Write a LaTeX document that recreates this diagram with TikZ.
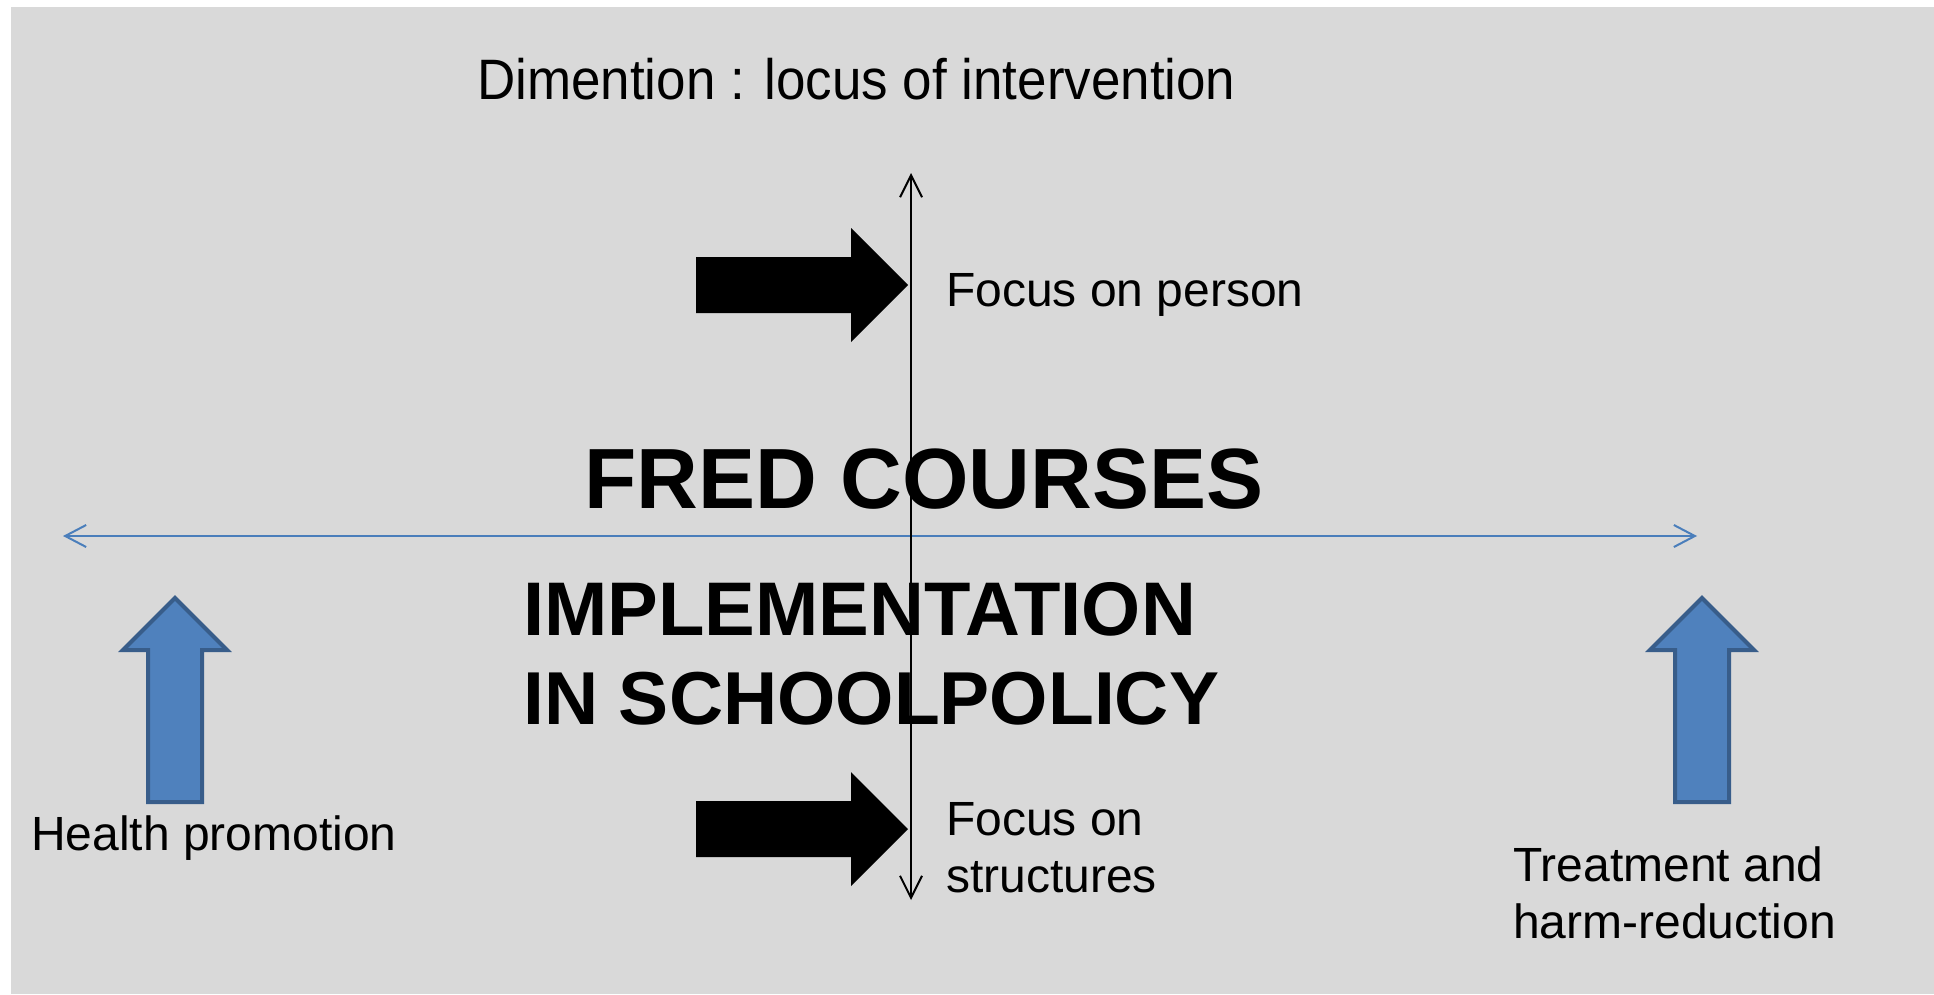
\documentclass[tikz,border=0pt]{standalone}
\usepackage{fontspec}
\setmainfont{Liberation Sans}
\usetikzlibrary{arrows.meta}
\definecolor{bggray}{HTML}{D9D9D9}
\definecolor{axisblue}{HTML}{4A7EBB}
\definecolor{arrowfill}{HTML}{4F81BD}
\definecolor{arrowedge}{HTML}{385D8A}
\begin{document}
\begin{tikzpicture}[x=1pt,y=-1pt,
  lbl/.style={anchor=base west,inner sep=0pt,font=\fontsize{48}{57}\selectfont},
  big/.style={anchor=base west,inner sep=0pt,font=\fontsize{76}{89}\selectfont\bfseries},
  blockarrow/.style={fill=black},
  bluearrow/.style={fill=arrowfill,draw=arrowedge,line width=4pt,line join=miter},
  vaxis/.style={draw=black,line width=2pt,{Straight Barb[length=22pt,width=22pt,line width=2pt]}-{Straight Barb[length=22pt,width=22pt,line width=2pt]}},
  haxis/.style={draw=axisblue,line width=2pt,{Straight Barb[length=21pt,width=22pt,line width=2pt]}-{Straight Barb[length=21pt,width=22pt,line width=2pt]}}]
\useasboundingbox (0,0) rectangle (1934,994);
\fill[bggray] (11,7) rectangle (1934,994);

% axes
\coordinate (vtop) at (911,173);
\coordinate (vbot) at (911,900);
\coordinate (hleft) at (63,536);
\coordinate (hright) at (1697,536);
\draw[haxis] (hleft) -- (hright);
\draw[vaxis] (vbot) -- (vtop);

% black block arrows
\fill[blockarrow] (696,257) -- (851,257) -- (851,228) -- (908,285) -- (851,342) -- (851,313) -- (696,313) -- cycle;
\fill[blockarrow] (696,801) -- (851,801) -- (851,772) -- (908,829) -- (851,886) -- (851,857) -- (696,857) -- cycle;

% blue block arrows
\draw[bluearrow] (175,598) -- (227,650) -- (202,650) -- (202,802) -- (148,802) -- (148,650) -- (123,650) -- cycle;
\draw[bluearrow] (1702,598) -- (1754,650) -- (1729,650) -- (1729,802) -- (1675,802) -- (1675,650) -- (1650,650) -- cycle;

% texts
\node[anchor=base west,inner sep=0pt,font=\fontsize{57}{68}\selectfont,xscale=0.929] (title) at (477,99) {Dimention : locus of intervention};
\node[lbl] (person) at (946,306) {Focus on person};
\node[anchor=base west,inner sep=0pt,font=\fontsize{85.5}{100}\selectfont\bfseries] (fred) at (584,508) {FRED COURSES};
\node[big] (impl1) at (523,635) {IMPLEMENTATION};
\node[big,font=\fontsize{75}{89}\selectfont\bfseries] (impl2) at (523,724) {IN SCHOOLPOLICY};
\node[lbl] (health) at (31,850) {Health promotion};
\node[lbl] (struct1) at (946,835) {Focus on};
\node[lbl] (struct2) at (946,892) {structures};
\node[lbl] (treat1) at (1513,881) {Treatment and};
\node[lbl] (treat2) at (1513,938) {harm-reduction};
\end{tikzpicture}
\end{document}
